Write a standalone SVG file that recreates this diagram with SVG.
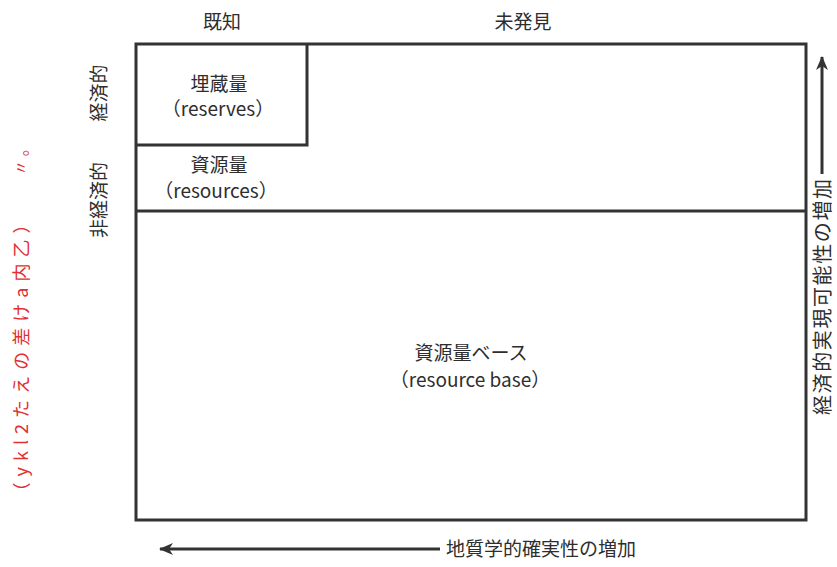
<svg xmlns="http://www.w3.org/2000/svg" width="837" height="567" viewBox="0 0 837 567">
<defs>
<style>
.t{font-family:"Noto Sans CJK JP","Noto Sans",sans-serif;fill:#2e2e2e;font-size:19px;text-anchor:middle}
.b{stroke:#333;stroke-width:3;fill:none}
.h{font-family:"Noto Sans CJK JP",sans-serif;fill:#e03030;font-size:18px;text-anchor:middle}
</style>
<marker id="ah" viewBox="0 0 14 12" refX="13" refY="6" markerWidth="14" markerHeight="12" markerUnits="userSpaceOnUse" orient="auto">
<path d="M0,0 L14,6 L0,12 L4,6 Z" fill="#333"/>
</marker>
</defs>
<rect width="837" height="567" fill="#fff"/>
<g id="frame">
<rect class="b" x="136" y="44" width="670" height="476"/>
</g>
<g id="reserves">
<polyline class="b" points="137,145 307,145 307,44"/>
<text class="t" x="219" y="91">埋蔵量</text>
<text class="t" x="218" y="116">（reserves）</text>
</g>
<g id="resources">
<line class="b" x1="137" y1="211" x2="805" y2="211"/>
<text class="t" x="219" y="172">資源量</text>
<text class="t" x="216" y="198">（resources）</text>
</g>
<g id="base">
<text class="t" x="471" y="360">資源量ベース</text>
<text class="t" x="470" y="387">（resource base）</text>
</g>
<g id="labels">
<text class="t" x="222" y="29">既知</text>
<text class="t" x="523" y="29">未発見</text>
<text class="t" transform="translate(106,93) rotate(-90)">経済的</text>
<text class="t" transform="translate(106,200) rotate(-90)">非経済的</text>
<text class="t" style="font-size:20px;text-anchor:start" transform="translate(830,415) rotate(-90)" textLength="236" lengthAdjust="spacing">経済的実現可能性の増加</text>
<text class="t" style="text-anchor:start" x="446" y="556">地質学的確実性の増加</text>
</g>
<g id="connectors">
<line x1="822" y1="174" x2="822" y2="57" stroke="#333" stroke-width="3" marker-end="url(#ah)"/>
<line x1="440" y1="549" x2="160" y2="549" stroke="#333" stroke-width="3" marker-end="url(#ah)"/>
</g>
<g id="note">
<text class="h" transform="translate(28,358) rotate(-90)" textLength="285" lengthAdjust="spacing">（ykl2たえの差けa内乙）</text>
<text class="h" style="font-size:16px" transform="translate(27,158) rotate(-90)">〃 。</text>
</g>
</svg>
